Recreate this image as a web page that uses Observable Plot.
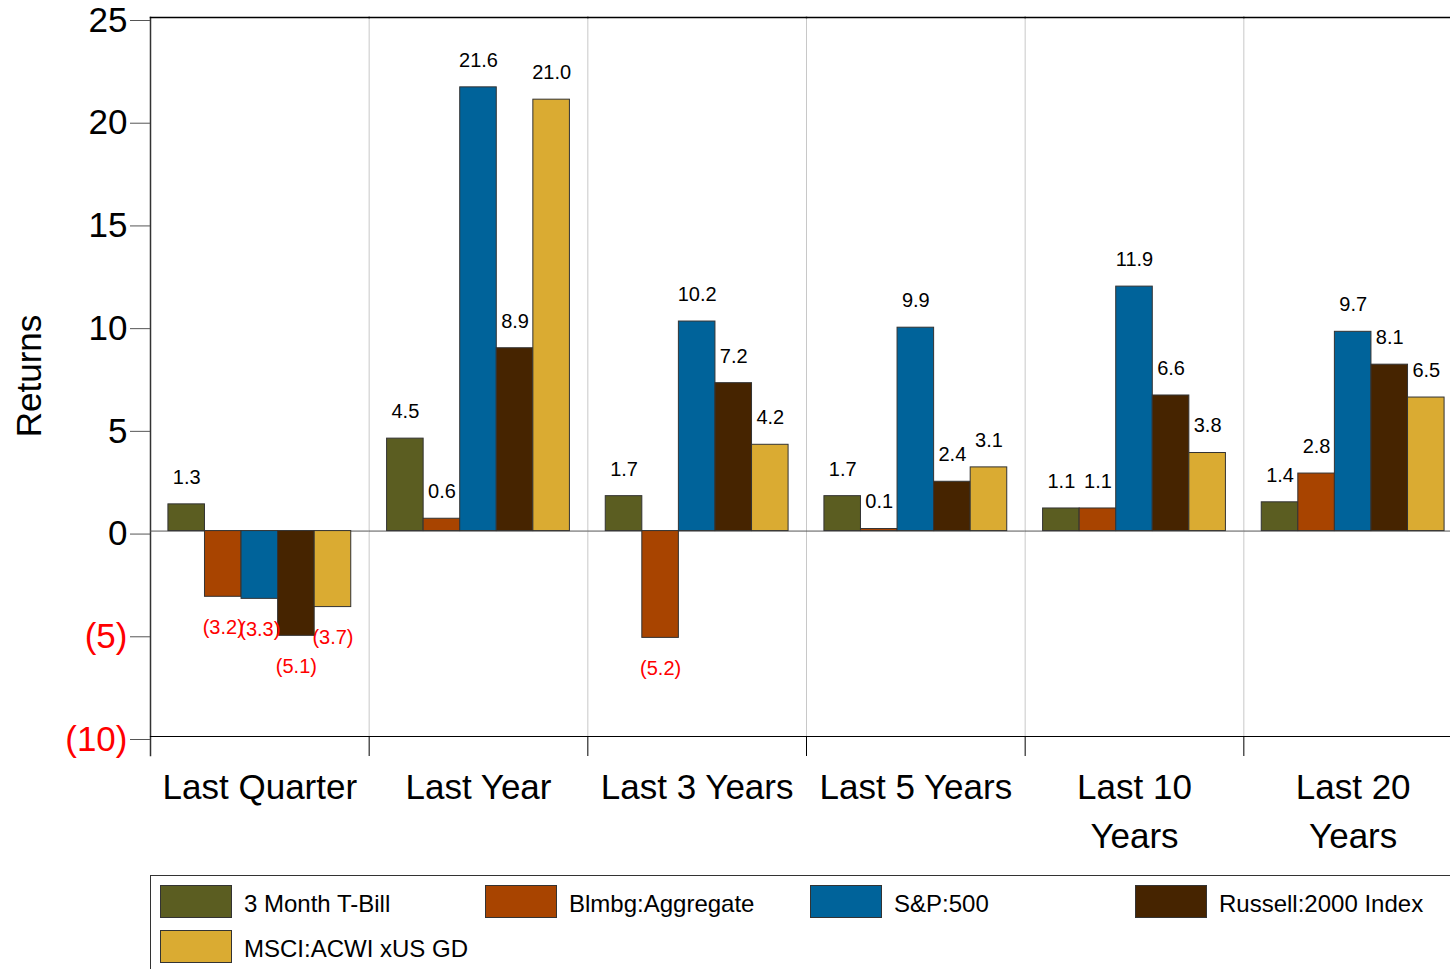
<!DOCTYPE html>
<html>
<head>
<meta charset="utf-8">
<script src="https://cdn.jsdelivr.net/npm/d3@7"></script>
<script src="https://cdn.jsdelivr.net/npm/@observablehq/plot@0.6"></script>
<style>
  body { margin: 0; background: #fff; font-family: "Liberation Sans", Arial, sans-serif; }
  #wrap { width: 1450px; overflow: hidden; position: relative; }
  #chart svg { max-width: none !important; display: block; }
  #legend { position: relative; margin-top: 5px; height: 100px; border-top: 1.5px solid #333; border-left: 1.5px solid #333; margin-left: 150px; width: 1400px; box-sizing: border-box; }
  .item { position: absolute; display: flex; align-items: center; font-size: 24px; color: #000; }
  .item span { padding-top: 5px; }
  .sw { width: 72px; height: 33px; border: 1px solid #333; box-sizing: border-box; margin-right: 12px; }
</style>
</head>
<body>
<div id="wrap"><div id="chart"></div><div id="legend"></div></div>
<script>
const periods = ["Last Quarter", "Last Year", "Last 3 Years", "Last 5 Years", "Last 10 Years", "Last 20 Years"];
const periodLabels = ["Last Quarter", "Last Year", "Last 3 Years", "Last 5 Years", "Last 10\nYears", "Last 20\nYears"];
const series = ["3 Month T-Bill", "Blmbg:Aggregate", "S&P:500", "Russell:2000 Index", "MSCI:ACWI xUS GD"];
const colors = ["#5b5d21", "#a84400", "#00639a", "#462400", "#daab32"];
const tbill   = [1.3, 4.5, 1.7, 1.7, 1.1, 1.4];
const blmbg   = [-3.2, 0.6, -5.2, 0.1, 1.1, 2.8];
const sp500   = [-3.3, 21.6, 10.2, 9.9, 11.9, 9.7];
const russell = [-5.1, 8.9, 7.2, 2.4, 6.6, 8.1];
const msci    = [-3.7, 21.0, 4.2, 3.1, 3.8, 6.5];
const yTicks = [25, 20, 15, 10, 5, 0, -5, -10];

const seriesValues = [tbill, blmbg, sp500, russell, msci];
const data = [];
periods.forEach((p, i) => series.forEach((s, j) => data.push({period: p, series: s, value: seriesValues[j][i]})));
const fmt = v => v < 0 ? `(${Math.abs(v).toFixed(1)})` : v.toFixed(1);
const tfmt = v => v < 0 ? `(${-v})` : `${v}`;

const chart = Plot.plot({
  width: 1462,
  height: 870,
  marginTop: 17,
  marginBottom: 134,
  marginLeft: 150,
  marginRight: 0,
  style: {fontFamily: "Liberation Sans, Arial, sans-serif", background: "#fff", maxWidth: "none"},
  fx: {domain: periods, padding: 0, round: false, label: null},
  x: {domain: series, paddingInner: 0, paddingOuter: 0.49, round: false, axis: null},
  y: {domain: [-10, 25], axis: null},
  color: {domain: series, range: colors},
  marks: [
    Plot.frame({anchor: "left", stroke: "#c8c8c8", strokeOpacity: 1}),
    Plot.frame({anchor: "left", stroke: "#000", insetTop: 719, insetBottom: -19}),
    Plot.frame({anchor: "left", stroke: "#333", strokeWidth: 1.5, insetBottom: -19, facetAnchor: "left"}),
    Plot.frame({anchor: "top", stroke: "#000", strokeWidth: 1.5}),
    Plot.frame({anchor: "bottom", stroke: "#000", strokeWidth: 1.2}),
    Plot.ruleY([0], {stroke: "#555"}),
    Plot.barY(data, {fx: "period", x: "series", y: "value", fill: "series", stroke: "#333", strokeWidth: 1}),
    Plot.text(data.filter(d => d.value >= 0), {fx: "period", x: "series", y: "value", text: d => fmt(d.value), dy: -27, fontSize: 20, fill: "#000"}),
    Plot.text(data.filter(d => d.value < 0), {fx: "period", x: "series", y: "value", text: d => fmt(d.value), dy: 31, fontSize: 20, fill: "#ff0000"}),
    Plot.axisY(yTicks.filter(t => t >= 0), {anchor: "left", tickSize: 20, tickPadding: 3, fontSize: 35, dy: 3, tickFormat: tfmt, stroke: "#555", fill: "#000", label: null}),
    Plot.axisY(yTicks.filter(t => t < 0), {anchor: "left", tickSize: 20, tickPadding: 3, fontSize: 35, dy: 3, tickFormat: tfmt, stroke: "#555", fill: "#ff0000", label: null}),
    Plot.axisFx({anchor: "bottom", tickSize: 0, tickPadding: 28, fontSize: 35, lineHeight: 1.4, fill: "#000", tickFormat: d => periodLabels[periods.indexOf(d)], label: null})
  ]
});
document.getElementById("chart").appendChild(chart);

// y-axis title
const svg = d3.select(chart);
svg.append("text")
  .attr("transform", "translate(28,376) rotate(-90)")
  .attr("text-anchor", "middle")
  .attr("dominant-baseline", "central")
  .attr("font-size", 35)
  .attr("fill", "#000")
  .text("Returns");

// legend
const legend = document.getElementById("legend");
series.forEach((s, i) => {
  const col = i % 4, row = Math.floor(i / 4);
  const it = document.createElement("div");
  it.className = "item";
  it.style.left = (9 + col * 325) + "px";
  it.style.top = (9 + row * 45) + "px";
  it.innerHTML = `<div class="sw" style="background:${colors[i]}"></div><span>${s}</span>`;
  legend.appendChild(it);
});
</script>
</body>
</html>
